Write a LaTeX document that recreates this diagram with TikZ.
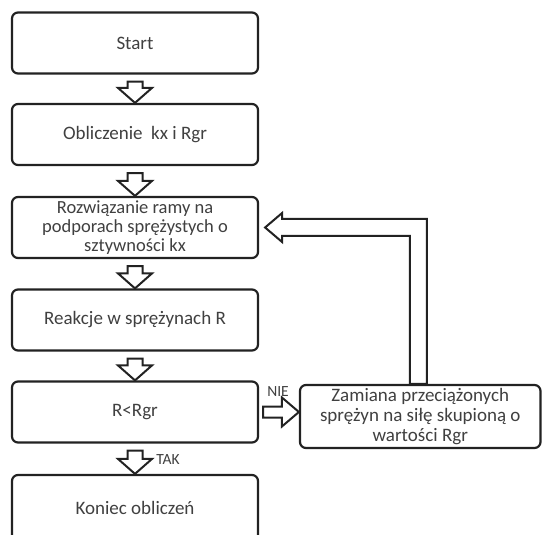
\documentclass[tikz,border=0pt]{standalone}
\usepackage{fontspec}
\setmainfont{Carlito}
\usetikzlibrary{calc}
\definecolor{txt}{HTML}{404040}
\definecolor{ln}{HTML}{222222}
\newcommand\vblockarrow[2]{%
  \draw[barrow] ($(#1.south)+(-7.5,7)$) -- ($(#2.north)+(-7.5,-15)$) -- ($(#2.north)+(-17,-15)$) -- (#2.north)
    -- ($(#2.north)+(17,-15)$) -- ($(#2.north)+(7.5,-15)$) -- ($(#1.south)+(7.5,7)$) -- cycle;}
\begin{document}
\begin{tikzpicture}[x=1pt,y=-1pt,
  box/.style={draw=ln, line width=2.2pt, rounded corners=6pt, fill=white,
    minimum width=246pt, minimum height=61pt, align=center, text=txt,
    font=\fontsize{19}{19.5}\selectfont, inner sep=2pt},
  barrow/.style={draw=ln, line width=2pt, fill=white, line join=miter},
  lbl/.style={text=txt, font=\fontsize{15.5}{17}\selectfont, inner sep=0pt}]
\clip (0,0) rectangle (542,535);
\fill[white] (0,0) rectangle (542,535);
\node[box] (start) at (135,43) {Start};
\node[box] (obl) at (135,134.5) {Obliczenie \ kx i Rgr};
\node[box, font=\fontsize{18.5}{19}\selectfont] (rozw) at (135,227.5) {Rozwiązanie ramy na\\podporach sprężystych o\\sztywności kx};
\node[box] (reak) at (135,320) {Reakcje w sprężynach R};
\node[box] (rr) at (135,412) {R<Rgr};
\node[box, minimum height=66pt] (kon) at (135,508) {Koniec obliczeń};
\node[box, minimum width=240.5pt, minimum height=63pt, font=\fontsize{19}{20}\selectfont] (zam) at (420.25,416.5) {Zamiana przeciążonych\\sprężyn na siłę skupioną o\\wartości Rgr};
\vblockarrow{start}{obl}
\vblockarrow{obl}{rozw}
\vblockarrow{rozw}{reak}
\vblockarrow{reak}{rr}
\vblockarrow{rr}{kon}
% NIE arrow
\coordinate (nt) at (zam.west |- rr.east);
\draw[barrow] ($(rr.east)+(4,-5.5)$) -- ($(nt)+(-17,-5.5)$) -- ($(nt)+(-17,-14.5)$) -- (nt)
  -- ($(nt)+(-17,14.5)$) -- ($(nt)+(-17,5.5)$) -- ($(rr.east)+(4,5.5)$) -- cycle;
% loop arrow
\coordinate (lt) at ($(rozw.east)+(6,0)$);
\coordinate (lb) at ($(zam.north)+(-2,0)$);
\draw[barrow] ($(lb)+(-8.5,0)$) -- ($(lb|-lt)+(-8.5,8.5)$) -- ($(lt)+(17,8.5)$) -- ($(lt)+(17,14.5)$) -- (lt)
  -- ($(lt)+(17,-14.5)$) -- ($(lt)+(17,-8.5)$) -- ($(lb|-lt)+(8.5,-8.5)$) -- ($(lb)+(8.5,0)$) -- cycle;
\node[lbl] (nie) at (278,392) {NIE};
\node[lbl] (tak) at (168,460) {TAK};
\end{tikzpicture}
\end{document}
